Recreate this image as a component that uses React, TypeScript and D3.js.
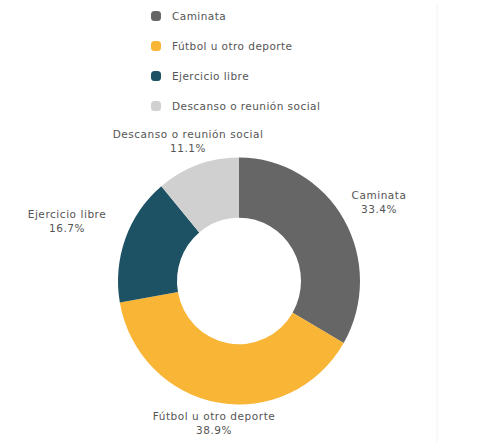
import React from "react";
import * as d3 from "d3";

const categories = ["Caminata", "Fútbol u otro deporte", "Ejercicio libre", "Descanso o reunión social"];
const values = [33.4, 38.9, 16.7, 11.1];
const valueLabels = ["33.4%", "38.9%", "16.7%", "11.1%"];
const colors = ["#666666", "#F8B536", "#1D5164", "#D0D0D0"];

const W = 480;
const H = 442;
const FONT = "'DejaVu Sans', sans-serif";

export default function App() {
  const cx = 239;
  const cy = 281;
  const outerR = 121;
  const innerR = 62;

  const pie = d3.pie<number>().sort(null).value((d) => d)(values);
  const arc = d3.arc<d3.PieArcDatum<number>>().innerRadius(innerR).outerRadius(outerR);

  const labelPos: [number, number][] = [
    [379, 195],
    [214, 416],
    [67, 214],
    [188, 134],
  ];

  const legendY = d3.scalePoint<string>().domain(categories).range([16, 106]);

  return (
    <svg
      width={W}
      height={H}
      style={{ position: "absolute", left: 0, top: 0, background: "#ffffff" }}
      fontFamily={FONT}
    >
      <rect x={0} y={0} width={W} height={H} fill="#ffffff" />
      <line x1={437} y1={3} x2={437} y2={442} stroke="#f2f2f2" strokeWidth={1} />
      {categories.map((c, i) => (
        <g key={c} transform={`translate(156, ${legendY(c)})`}>
          <rect x={-5} y={-5} width={10} height={10} rx={3.5} fill={colors[i]} />
          <text x={16} y={0} dy="0.35em" fontSize={10.5} letterSpacing={0.45} fill="#555555">
            {c}
          </text>
        </g>
      ))}
      <g transform={`translate(${cx}, ${cy}) scale(1, 1.02)`}>
        {pie.map((p, i) => (
          <path key={i} d={arc(p) || ""} fill={colors[i]} />
        ))}
      </g>
      {categories.map((c, i) => (
        <g key={c} fontSize={10.5} letterSpacing={0.55} fill="#555555" textAnchor="middle">
          <text x={labelPos[i][0]} y={labelPos[i][1]} dy="0.35em">
            {c}
          </text>
          <text x={labelPos[i][0]} y={labelPos[i][1] + 14} dy="0.35em">
            {valueLabels[i]}
          </text>
        </g>
      ))}
    </svg>
  );
}
